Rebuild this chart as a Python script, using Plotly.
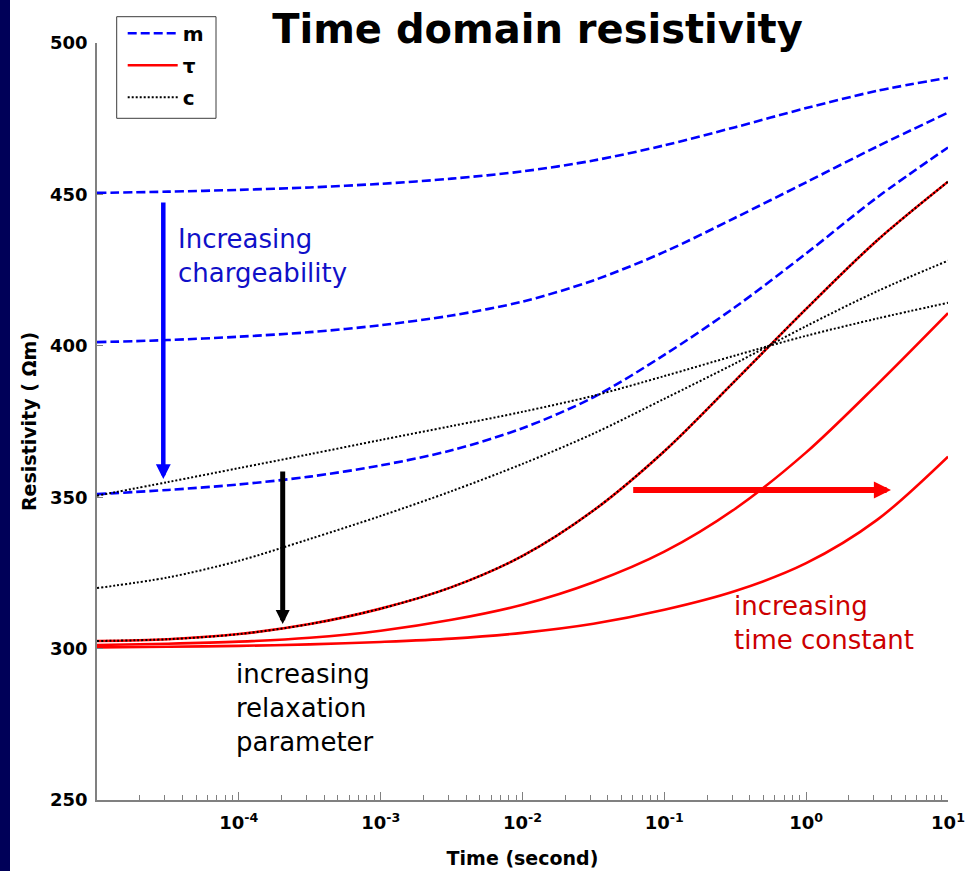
import plotly.graph_objects as go

# Sample times (seconds), half-decade steps from 1e-5 to 10 s
time_s = [1e-5, 3.162e-5, 1e-4, 3.162e-4, 1e-3, 3.162e-3, 1e-2,
          3.162e-2, 1e-1, 3.162e-1, 1.0, 3.162, 10.0]

# Apparent resistivity (ohm-m) for increasing chargeability m
m_low = [351.0, 352.4, 354.2, 356.8, 360.5, 365.5, 372.8, 383.0, 397.0, 412.8, 430.5, 449.0, 465.5]
m_mid = [401.2, 401.9, 403.0, 404.5, 406.8, 410.0, 414.6, 421.6, 431.0, 442.3, 454.0, 465.8, 477.0]
m_high = [450.5, 450.9, 451.5, 452.3, 453.5, 455.2, 457.6, 461.2, 466.2, 472.2, 478.5, 484.2, 488.5]

# Reference model, shared by the tau and c families
base = [302.5, 303.1, 304.8, 308.1, 313.2, 320.3, 330.6, 345.6, 365.2, 388.5, 412.2, 434.8, 454.2]

# Increasing time constant tau
tau_mid = [301.2, 301.6, 302.3, 303.6, 305.9, 309.5, 314.5, 321.9, 332.0, 346.2, 364.8, 387.2, 410.8]
tau_long = [300.4, 300.6, 300.9, 301.4, 302.2, 303.3, 305.2, 308.2, 312.8, 319.0, 328.2, 342.5, 363.4]

# Varying relaxation parameter c
c_low = [350.5, 355.0, 359.6, 364.2, 368.9, 373.5, 378.2, 383.5, 390.0, 396.8, 403.3, 409.0, 414.2]
c_mid = [320.0, 323.5, 329.0, 336.2, 343.8, 352.0, 361.0, 371.0, 382.5, 394.2, 406.5, 418.0, 428.1]

# Axis ticks
x_tickvals = [1e-4, 1e-3, 1e-2, 1e-1, 1e0, 1e1]
x_ticktext = ["10<sup>-4</sup>", "10<sup>-3</sup>", "10<sup>-2</sup>",
              "10<sup>-1</sup>", "10<sup>0</sup>", "10<sup>1</sup>"]
y_tickvals = [250, 300, 350, 400, 450, 500]

W, H = 965, 871
ML, MR, MT, MB = 97, 17, 43, 71
PW, PH = W - ML - MR, H - MT - MB


def px(x):
    return (x - ML) / PW


def py(y):
    return (H - MB - y) / PH


FONT = "DejaVu Sans"
BLUE, RED, BLACK = "#0000ff", "#ff0000", "#000000"

fig = go.Figure()

m_style = dict(color=BLUE, width=2.6, dash="9px,4px")
for i, ys in enumerate([m_high, m_mid, m_low]):
    fig.add_trace(go.Scatter(x=time_s, y=ys, mode="lines", name="m",
                             legendgroup="m", showlegend=(i == 0),
                             line=dict(m_style, shape="spline", smoothing=0.9)))

tau_style = dict(color=RED, width=2.6)
for i, ys in enumerate([base, tau_mid, tau_long]):
    fig.add_trace(go.Scatter(x=time_s, y=ys, mode="lines", name="\u03c4",
                             legendgroup="tau", showlegend=(i == 0),
                             line=dict(tau_style, shape="spline", smoothing=0.9)))

c_style = dict(color=BLACK, width=2.0, dash="2px,2px")
for i, ys in enumerate([c_low, c_mid, base]):
    fig.add_trace(go.Scatter(x=time_s, y=ys, mode="lines", name="c",
                             legendgroup="c", showlegend=(i == 0),
                             line=dict(c_style, shape="spline", smoothing=0.9)))

annotations = []


def arrow(x_tip, y_tip, x_tail, y_tail, color, width, size):
    annotations.append(dict(
        x=px(x_tip), y=py(y_tip), xref="paper", yref="paper",
        ax=x_tail - x_tip, ay=y_tail - y_tip,
        text="", showarrow=True, arrowhead=2, arrowsize=size,
        arrowwidth=width, arrowcolor=color, standoff=0))


arrow(163.3, 479, 163.3, 201, BLUE, 4.5, 0.66)
arrow(282.7, 624, 282.7, 470, BLACK, 5.0, 0.56)
arrow(891, 490, 631.7, 490, RED, 6.0, 0.57)


def label(text, x_left, y_mid, color):
    annotations.append(dict(
        x=px(x_left), y=py(y_mid), xref="paper", yref="paper",
        xanchor="left", yanchor="middle", align="left", showarrow=False,
        text=text, font=dict(family=FONT, size=26, color=color)))


label("Increasing<br>chargeability", 176, 256, "#1010c8")
label("increasing<br>relaxation<br>parameter", 234, 708, BLACK)
label("increasing<br>time constant", 732, 623, "#cc0000")

axis_grey = "#808080"
minor_vals = [k * 10.0 ** d for d in range(-5, 1) for k in range(2, 10)]

fig.update_layout(
    width=W, height=H,
    margin=dict(l=ML, r=MR, t=MT, b=MB, autoexpand=False),
    paper_bgcolor="white", plot_bgcolor="white",
    font=dict(family=FONT, color="black"),
    title=dict(text="<b>Time domain resistivity</b>",
               font=dict(family=FONT, size=40, color="black"),
               x=537.5 / W, xref="container", xanchor="center",
               y=1 - 29 / H, yref="container", yanchor="middle"),
    xaxis=dict(type="log", range=[-5, 1], showgrid=False, zeroline=False,
               showline=True, linecolor=axis_grey, linewidth=1.5,
               ticks="inside", ticklen=8, tickwidth=1, tickcolor=axis_grey,
               tickmode="array", tickvals=x_tickvals, ticktext=x_ticktext,
               tickfont=dict(family=FONT, size=18, color="black", weight="bold"),
               ticklabelstandoff=6,
               minor=dict(tickmode="array", tickvals=minor_vals, ticks="inside",
                          ticklen=5, tickwidth=1, tickcolor=axis_grey, showgrid=False),
               title=dict(text="Time (second)", standoff=19,
                          font=dict(family=FONT, size=19, color="black", weight="bold"))),
    yaxis=dict(range=[250, 500], showgrid=False, zeroline=False,
               showline=True, linecolor=axis_grey, linewidth=1.5,
               ticks="inside", ticklen=6, tickwidth=1, tickcolor=axis_grey,
               tickmode="array", tickvals=y_tickvals,
               tickfont=dict(family=FONT, size=18, color="black", weight="bold"),
               ticklabelstandoff=4,
               title=dict(text="Resistivity ( \u03a9m)", standoff=8,
                          font=dict(family=FONT, size=19, color="black", weight="bold"))),
    legend=dict(x=px(122.7), y=py(13.7), xanchor="left", yanchor="top",
                bgcolor="rgba(255,255,255,0)", borderwidth=0,
                traceorder="grouped", tracegroupgap=3, itemwidth=50,
                font=dict(family=FONT, size=20, color="black", weight="bold")),
    shapes=[
        dict(type="rect", xref="paper", yref="paper",
             x0=px(0), x1=px(10), y0=py(H), y1=py(0),
             fillcolor="#000058", line=dict(width=0), layer="below"),
        # frame around the legend entries
        dict(type="rect", xref="paper", yref="paper",
             x0=px(116.7), x1=px(216), y0=py(118.3), y1=py(16.7),
             fillcolor="rgba(0,0,0,0)", line=dict(color="#3c3c3c", width=1),
             layer="above"),
    ],
    annotations=annotations,
)

fig.write_html("out.html")
